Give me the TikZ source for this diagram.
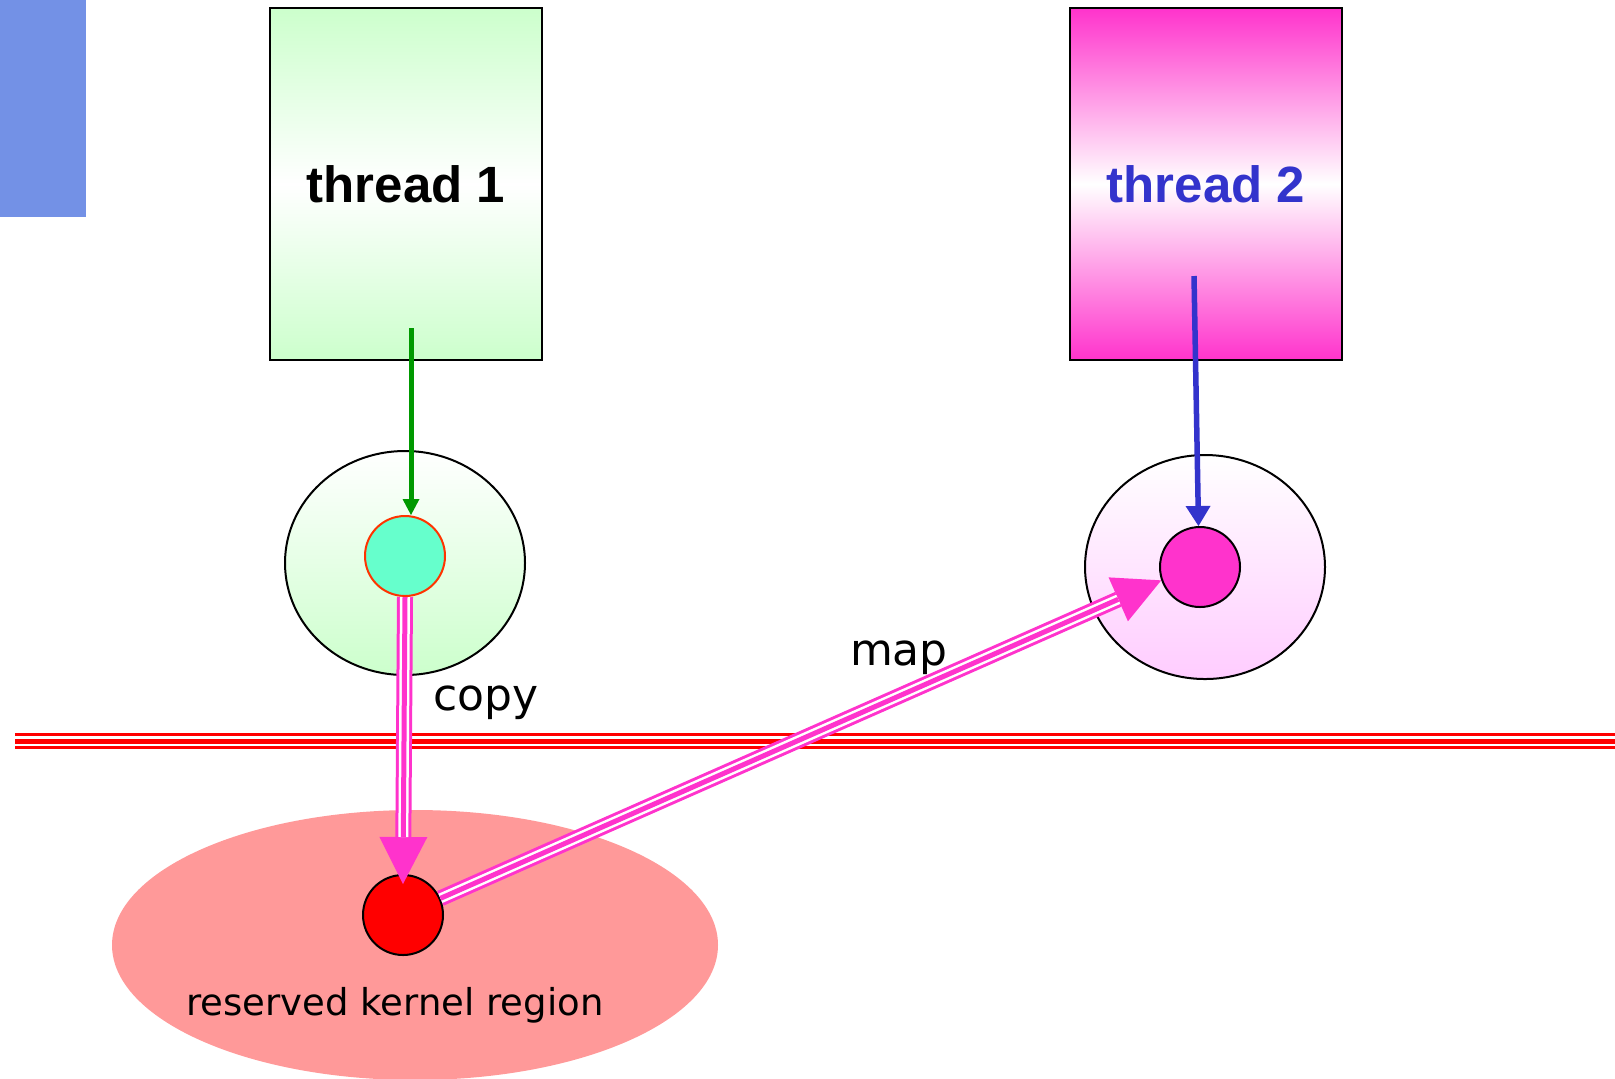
\documentclass[tikz,border=0pt]{standalone}
\usepackage{fontspec}
\usetikzlibrary{arrows.meta,shapes.geometric,calc}
\newfontfamily\arialf{Liberation Sans}
\newfontfamily\tahf{DejaVu Sans}
\definecolor{pk}{HTML}{FF33CC}
\definecolor{lg}{HTML}{CCFFCC}
\definecolor{lp}{HTML}{FFCCFF}
\definecolor{bluebar}{HTML}{7391E6}
\definecolor{tblue}{HTML}{3333CC}
\definecolor{garrow}{HTML}{009900}
\definecolor{mint}{HTML}{66FFCC}
\definecolor{orred}{HTML}{FF3300}
\definecolor{region}{HTML}{FF9999}
\tikzset{
  tbox/.style={draw=black, line width=1pt, minimum width=136pt, minimum height=176pt, inner sep=0pt,
    font=\arialf\bfseries\fontsize{25.5pt}{30pt}\selectfont},
  shell/.style={ellipse, draw=black, line width=1pt, minimum width=120pt, minimum height=112pt, inner sep=0pt},
  dot/.style={circle, draw=black, line width=1pt, minimum size=40pt, inner sep=0pt},
  lbl/.style={font=\tahf\fontsize{22pt}{26pt}\selectfont, inner sep=0pt, anchor=base},
  triout/.style={draw=pk, line width=8pt, -{Triangle[length=23.5pt,width=24pt,line width=0pt]}},
  trimid/.style={draw=white, line width=5pt, shorten >=23.5pt},
  triin/.style={draw=pk, line width=2.5pt, shorten >=23.5pt},
}
\begin{document}
\begin{tikzpicture}[x=0.5pt,y=-0.5pt]
\useasboundingbox (0,0) rectangle (1615,1078);
\fill[bluebar] (0,0) rectangle (86,217);

% thread boxes
\node[tbox, top color=lg, bottom color=lg, middle color=white] (t1) at (406,184) {thread 1};
\node[tbox, top color=pk, bottom color=pk, middle color=white, text=tblue] (t2) at (1206,184) {thread 2};

% address-space ellipses
\node[shell, top color=white, bottom color=lg] (e1) at (405,563) {};
\node[shell, top color=white, bottom color=lp] (e2) at (1205,567) {};

% kernel region
\node[ellipse, fill=region, minimum width=303pt, minimum height=135pt, inner sep=0pt] (kr) at (415,945) {};
\node[font=\tahf\fontsize{18.5pt}{22pt}\selectfont, inner sep=0pt, anchor=base] (krl) at (395,1015) {reserved kernel region};

% boundary line
\coordinate (L1) at (15,741);
\coordinate (L2) at (1615,741);
\draw[red, line width=8pt] (L1) -- (L2);
\draw[white, line width=5pt] (L1) -- (L2);
\draw[red, line width=2.5pt] (L1) -- (L2);

% inner dots
\node[dot, fill=mint, draw=orred] (c1) at (405,556) {};
\node[dot, fill=pk] (c2) at (1200,567) {};
\node[dot, fill=red] (c3) at (403,915) {};

% thread arrows
\coordinate (g1) at (411,328);
\draw[garrow, line width=2.5pt, -{Triangle[length=8pt,width=8.5pt,line width=0pt]}] (g1) -- (g1 |- c1.north);
\coordinate (b1) at (1194,276);
\draw[tblue, line width=2.75pt, -{Triangle[length=10pt,width=12.5pt,line width=0pt]}] (b1) -- ([xshift=-0.75pt]c2.north);

% copy arrow
\coordinate (cpend) at ([yshift=-5pt]c3.north);
\draw[triout] (c1.south) -- (cpend);
\draw[trimid] (c1.south) -- (cpend);
\draw[triin] (c1.south) -- (cpend);

% map arrow
\draw[triout] (c3.24) -- (c2.199);
\draw[trimid] (c3.24) -- (c2.199);
\draw[triin] (c3.24) -- (c2.199);

% labels
\node[lbl] (copy) at (486,710) {copy};
\node[lbl] (map) at (899,665) {map};
\end{tikzpicture}
\end{document}
